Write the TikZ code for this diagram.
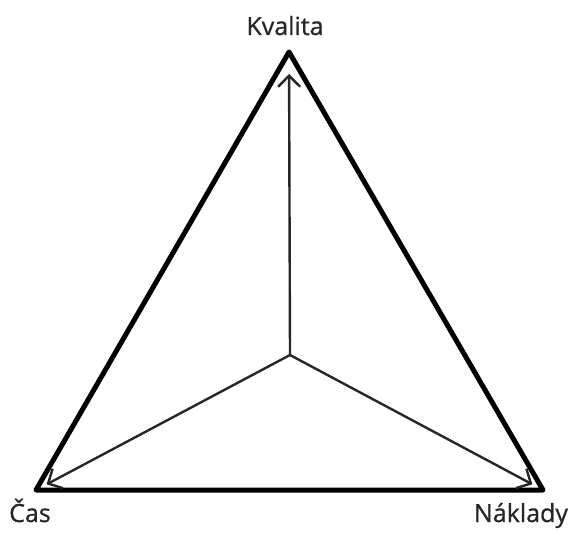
\documentclass[tikz,border=0pt]{standalone}
\usepackage{fontspec}
\setmainfont{Open Sans}
\newfontfamily\cornerfont{Open Sans}[FakeBold=0.8]
\usepackage{tikz}
\usetikzlibrary{
  arrows.meta,
  positioning
}
\tikzset{
  rimline/.style={line width=5pt,line join=round,draw=black},
  axisarrow/.style={-{Straight Barb[length=11pt,width=22pt]},line width=2.4pt,draw=black!85},
  cornerlabel/.style={font=\cornerfont\fontsize{25}{29}\selectfont,inner sep=0pt,text=black!85}
}

\begin{document}
\begin{tikzpicture}[x=1pt,y=-1pt]
\useasboundingbox (0,0) rectangle (572,532);
\coordinate (top) at (289,52);
\coordinate (left) at (36,490);
\coordinate (right) at (543,490);
\coordinate (mid) at (290,355);
\draw[rimline] (top) -- (left) -- (right) -- cycle;
\draw[axisarrow,shorten >=22pt] (mid) -- (top);
\draw[axisarrow,shorten >=12pt] (mid) -- (left);
\draw[axisarrow,shorten >=12pt] (mid) -- (right);
\node[cornerlabel,anchor=base] (kvalita) at (285,35) {Kvalita};
\node[cornerlabel,anchor=base] (cas) at (30,522) {Čas};
\node[cornerlabel,anchor=base] (naklady) at (521,522) {Náklady};
\end{tikzpicture}
\end{document}
